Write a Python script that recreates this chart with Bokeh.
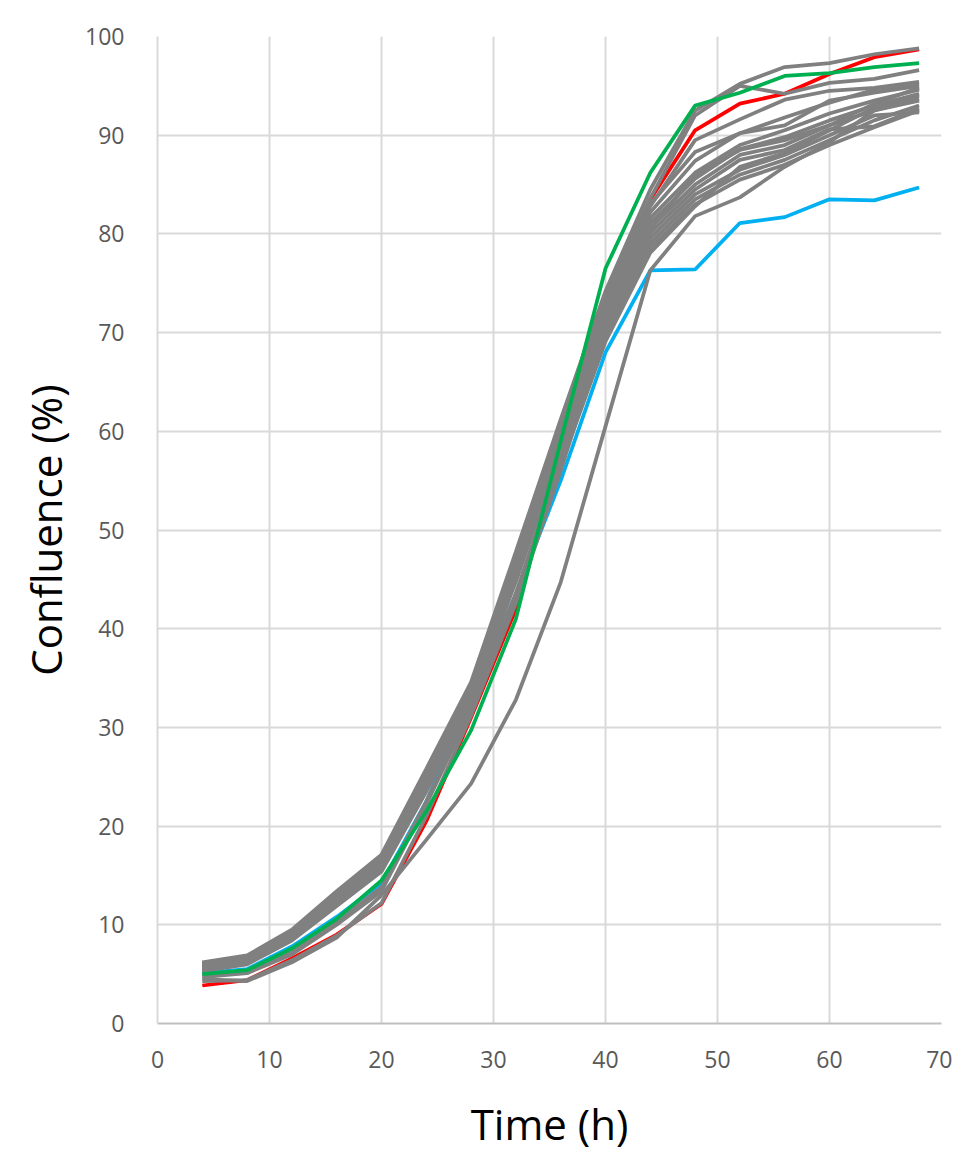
from bokeh.plotting import figure
from bokeh.embed import file_html
from bokeh.resources import INLINE
from bokeh.models import FixedTicker, Range1d

time_h = [4, 8, 12, 16, 20, 24, 28, 32, 36, 40, 44, 48, 52, 56, 60, 64, 68]

red = [3.85, 4.4, 6.6, 9.0, 12.1, 20.5, 31.0, 42.0, 58.0, 71.0, 83.5, 90.5, 93.2, 94.2, 96.2, 97.9, 98.7]
green = [5.0, 5.4, 7.6, 10.6, 14.5, 21.5, 29.7, 41.0, 59.0, 76.5, 86.2, 93.0, 94.3, 96.0, 96.3, 96.9, 97.3]
blue = [5.1, 5.5, 7.8, 10.8, 14.2, 22.5, 33.0, 43.5, 55.0, 68.0, 76.3, 76.4, 81.1, 81.7, 83.5, 83.4, 84.7]

grays = [
    [6.2, 6.9, 9.5, 13.4, 17.1, 25.8, 34.6, 47.8, 61.2, 74.2, 84.5, 92.5, 95.2, 96.9, 97.3, 98.2, 98.8],
    [6.1, 6.8, 9.4, 13.2, 16.9, 25.4, 34.4, 47.3, 60.7, 73.8, 83.6, 92.0, 95.0, 94.2, 95.3, 95.7, 96.6],
    [6.0, 6.7, 9.2, 13.0, 16.7, 25.1, 34.1, 46.9, 60.3, 73.4, 82.8, 89.5, 91.6, 93.6, 94.5, 94.8, 95.4],
    [5.9, 6.6, 9.1, 12.8, 16.5, 24.8, 33.9, 46.6, 59.9, 72.9, 82.2, 87.4, 90.2, 91.0, 93.5, 94.3, 95.0],
    [5.8, 6.5, 9.0, 12.7, 16.3, 24.6, 33.7, 46.3, 59.6, 72.5, 81.6, 86.2, 89.0, 90.5, 92.2, 93.5, 94.6],
    [5.7, 6.4, 8.9, 12.5, 16.1, 24.4, 33.5, 46.0, 59.3, 72.1, 81.1, 85.6, 88.6, 89.8, 91.5, 93.0, 94.2],
    [5.6, 6.3, 8.8, 12.4, 15.9, 24.1, 33.3, 45.7, 58.9, 71.6, 80.6, 85.0, 88.0, 89.0, 91.0, 92.5, 93.7],
    [5.5, 6.2, 8.7, 12.2, 15.7, 23.9, 33.0, 45.4, 58.6, 71.1, 80.1, 84.5, 87.5, 88.5, 90.6, 90.9, 92.7],
    [5.4, 6.1, 8.6, 12.1, 15.5, 23.7, 32.8, 45.1, 58.3, 70.6, 79.6, 84.0, 86.5, 88.0, 90.0, 92.0, 92.3],
    [5.3, 6.0, 8.4, 11.9, 15.4, 23.5, 32.6, 44.8, 57.9, 70.1, 79.1, 83.5, 86.0, 87.5, 89.5, 91.5, 93.0],
    [4.9, 5.3, 7.2, 10.3, 13.8, 22.5, 32.0, 43.6, 57.0, 69.6, 78.6, 83.0, 85.5, 87.0, 89.0, 90.8, 92.5],
    [4.7, 5.1, 7.0, 10.0, 13.4, 22.2, 31.8, 43.2, 56.5, 69.1, 78.1, 82.8, 86.8, 88.2, 90.5, 92.8, 94.0],
    [4.5, 4.3, 6.2, 8.7, 13.0, 18.6, 24.3, 32.8, 44.7, 60.5, 76.3, 81.8, 83.7, 86.8, 89.3, 92.5, 93.5],
    [4.3, 4.4, 6.4, 8.9, 12.2, 21.0, 31.2, 42.6, 56.0, 70.5, 80.5, 86.0, 88.5, 89.5, 91.0, 93.2, 94.8],
    [6.0, 6.7, 9.2, 12.9, 16.6, 25.2, 34.1, 46.9, 60.4, 73.6, 83.0, 88.3, 90.2, 91.8, 93.3, 94.6, 95.2],
]

x_ticks = [0, 10, 20, 30, 40, 50, 60, 70]
y_ticks = [0, 10, 20, 30, 40, 50, 60, 70, 80, 90, 100]

p = figure(width=952, height=1155, output_backend="svg", toolbar_location=None,
           x_range=Range1d(0, 70), y_range=Range1d(0, 100),
           min_border_left=157, min_border_right=11, min_border_top=36, min_border_bottom=132)
p.outline_line_color = None
p.background_fill_color = "white"

p.line(time_h, red, line_color="#FF0000", line_width=3.75)
p.line(time_h, blue, line_color="#00B0F0", line_width=3.75)
for g in grays:
    p.line(time_h, g, line_color="#808080", line_width=3.75)
p.line(time_h, green, line_color="#00B050", line_width=3.75)

for ax in (p.xaxis[0], p.yaxis[0]):
    ax.major_tick_line_color = None
    ax.minor_tick_line_color = None
    ax.major_label_text_font = "Open Sans"
    ax.major_label_text_font_size = "23px"
    ax.major_label_text_color = "#595959"
    ax.axis_label_text_font = "Open Sans"
    ax.axis_label_text_font_size = "42px"
    ax.axis_label_text_font_style = "normal"
    ax.axis_label_text_color = "#000000"

p.xaxis.ticker = FixedTicker(ticks=x_ticks)
p.yaxis.ticker = FixedTicker(ticks=y_ticks)
p.xaxis.axis_label = "Time (h)"
p.yaxis.axis_label = "Confluence (%)"
p.xaxis.axis_line_color = "#BFBFBF"
p.xaxis.axis_line_width = 2
p.yaxis.axis_line_color = "#D9D9D9"
p.yaxis.axis_line_width = 2
p.xaxis.major_label_standoff = 21
p.yaxis.major_label_standoff = 27
p.xaxis.axis_label_standoff = 24
p.yaxis.axis_label_standoff = 8

p.xgrid.grid_line_color = "#D9D9D9"
p.ygrid.grid_line_color = "#D9D9D9"
p.xgrid.grid_line_width = 2
p.ygrid.grid_line_width = 2

open("out.html", "w").write(file_html(p, INLINE))
